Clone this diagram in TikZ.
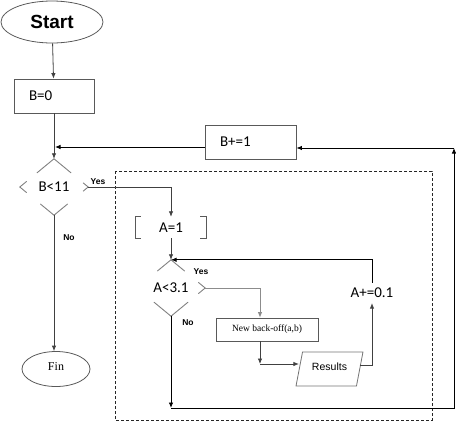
\documentclass[tikz,border=0pt]{standalone}
\usepackage{fontspec}
\setmainfont{Liberation Serif}
\setsansfont{Liberation Sans}
\newfontfamily\calib{Carlito}
\usetikzlibrary{arrows.meta,shapes.geometric,calc}

\begin{document}
\begin{tikzpicture}[x=1pt, y=-1pt,
      arr/.style={-{Latex[length=5.5pt,width=4.5pt]}, black!75, line width=0.8pt},
      loopline/.style={-{Latex[length=5.5pt,width=4.5pt]}, black, line width=0.9pt},
      box/.style={draw=black!65, line width=0.8pt, minimum height=34pt,
                  inner xsep=15pt, align=left, font=\calib\fontsize{15}{17}\selectfont},
      cond/.style={diamond, minimum width=68pt, minimum height=56pt,
                   inner sep=0pt, font=\calib\fontsize{15}{17}\selectfont},
      chev/.style={black!50, line width=0.9pt},
      brk/.style={black!65, line width=0.9pt},
      term/.style={ellipse, draw=black!65, line width=0.8pt, inner sep=0pt},
      lbl/.style={font=\sffamily\bfseries\fontsize{8.5}{10}\selectfont, inner sep=0pt},
    ]
    \useasboundingbox (0,0) rectangle (456,421);

    % inner loop frame
    \draw[dash pattern=on 3pt off 2pt, black!85, line width=0.7pt] (115,171) rectangle (432,420);

    \node[term, minimum width=102pt, minimum height=42pt,
          font=\sffamily\bfseries\fontsize{19}{22}\selectfont] (start) at (52,22) {Start};
    \node[box, text width=50pt] (b0) at (54,96) {B=0};
    \node[box, text width=61pt] (binc) at (250.5,142) {B+=1};
    \node[cond] (b11) at (54,187) {B<11};
    \node[term, minimum width=68pt, minimum height=35pt,
          font=\fontsize{12}{13}\selectfont] (fin) at (56,369) {\raisebox{4pt}{Fin}};

    \node[minimum width=70pt, minimum height=21pt, inner sep=0pt,
          font=\calib\fontsize{15}{17}\selectfont] (a1) at (171,227.5) {\raisebox{-3pt}{A=1}};
    \node[cond] (a31) at (171,288) {A<3.1\hspace{12pt}};
    \node[draw=black!65, line width=0.8pt, minimum width=102pt, minimum height=23pt,
          inner sep=0pt, font=\fontsize{9.5}{11}\selectfont] (nbo) at (267,329.5) {New back-off(a,b)};
    \node[trapezium, trapezium left angle=70, trapezium right angle=110,
          trapezium stretches=true, minimum width=67pt, minimum height=34pt,
          draw=black!55, line width=0.8pt, inner sep=0pt,
          font=\sffamily\fontsize{10.5}{12}\selectfont] (res) at (329.5,369) {\raisebox{4pt}{Results}};
    \node[inner sep=5pt, font=\calib\fontsize{15}{17}\selectfont] (ainc) at (372,293) {A+=0.1};

    \node[lbl] (yes1) at (98,182) {Yes};
    \node[lbl] (no1) at (69,238) {No};
    \node[lbl] (yes2) at (201,272) {Yes};
    \node[lbl] (no2) at (188,323) {No};

    \coordinate (c1) at (260,364);
    \coordinate (c2) at (171,408);
    \coordinate (c3) at (454,148);
    \coordinate (c4) at (55,147);

    % diamonds, only their corners are drawn
    \draw[chev] ($(b11.north)!.5!(b11.west)$) -- (b11.north) -- ($(b11.north)!.5!(b11.east)$);
    \draw[chev] ($(b11.west)!.2!(b11.north)$) -- (b11.west) -- ($(b11.west)!.2!(b11.south)$);
    \draw[chev] ($(b11.east)!.15!(b11.north)$) -- (b11.east) -- ($(b11.east)!.15!(b11.south)$);
    \draw[chev] ($(b11.south)!.4!(b11.west)$) -- (b11.south) -- ($(b11.south)!.4!(b11.east)$);
    \draw[chev] ($(a31.north)!.4!(a31.west)$) -- (a31.north) -- ($(a31.north)!.4!(a31.east)$);
    \draw[chev] ($(a31.east)!.2!(a31.north)$) -- (a31.east) -- ($(a31.east)!.2!(a31.south)$);
    \draw[chev] ($(a31.south)!.5!(a31.west)$) -- (a31.south) -- ($(a31.south)!.5!(a31.east)$);

    % A=1 box, as brackets
    \draw[brk] ([xshift=5pt]a1.north west) -- (a1.north west) -- (a1.south west) -- ([xshift=5pt]a1.south west);
    \draw[brk] ([xshift=-6pt]a1.north east) -- (a1.north east) -- (a1.south east) -- ([xshift=-6pt]a1.south east);

    \draw[arr] (start) -- (b0);
    \draw[arr] (b0.south) -- (b11.north);
    \draw[loopline] (binc.west |- c4) -- (c4);
    \draw[arr] (b11.east) -| (a1.north);
    \draw[arr] (b11.south) -- (b11.south |- fin.north);
    \draw[arr] (a1.south) -- (a31.north);
    \draw[arr, black!45] (a31.east) -| ([xshift=-7pt]nbo.north);
    \draw[arr] ([xshift=-7pt]nbo.south) -- (c1);
    \draw[arr] (c1) -- (c1 -| res.west);
    \draw[arr] ([yshift=4pt]res.east) -| (ainc.south);
    \draw[loopline] (ainc.north) |- (a31.north);
    \draw[loopline] (a31.south) -- (c2);
    \draw[loopline] (c2) -| (c3);
    \draw[loopline] (c3) -- (c3 -| binc.east);
  \end{tikzpicture}
\end{document}
